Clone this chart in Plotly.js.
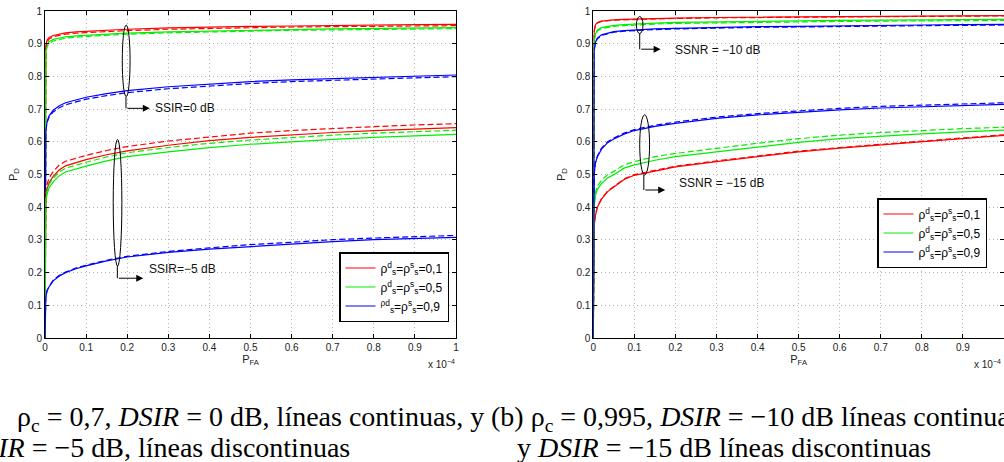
<!DOCTYPE html>
<html>
<head>
<meta charset="utf-8">
<script src="https://cdn.plot.ly/plotly-3.0.1.min.js"></script>
<style>
html,body{margin:0;padding:0;background:#fff;}
#chart{width:1004px;height:462px;}
</style>
</head>
<body>
<div id="chart"></div>
<script>
// P_FA (x 10^-4)
const pfa = [0, 0.0005, 0.002, 0.005, 0.01, 0.02, 0.035, 0.05, 0.075, 0.1, 0.15, 0.2, 0.3, 0.4, 0.5, 0.6, 0.7, 0.8, 0.9, 1.0];
const xTicks = [0, 0.1, 0.2, 0.3, 0.4, 0.5, 0.6, 0.7, 0.8, 0.9, 1];
const yTicks = [0, 0.1, 0.2, 0.3, 0.4, 0.5, 0.6, 0.7, 0.8, 0.9, 1];

// (a) SSIR = 0 dB  (solid: DSIR = 0 dB, dashed: DSIR = -5 dB)
const a0_red_solid   = [0, 0.86, 0.895, 0.912, 0.920, 0.926, 0.931, 0.934, 0.937, 0.939, 0.942, 0.945, 0.949, 0.952, 0.954, 0.955, 0.957, 0.958, 0.959, 0.960];
const a0_red_dash    = [0, 0.85, 0.888, 0.906, 0.915, 0.922, 0.927, 0.930, 0.933, 0.935, 0.938, 0.941, 0.945, 0.948, 0.950, 0.952, 0.953, 0.954, 0.955, 0.956];
const a0_green_solid = [0, 0.85, 0.880, 0.898, 0.907, 0.914, 0.919, 0.922, 0.925, 0.927, 0.930, 0.933, 0.937, 0.940, 0.942, 0.944, 0.946, 0.947, 0.949, 0.950];
const a0_green_dash  = [0, 0.84, 0.872, 0.891, 0.901, 0.909, 0.914, 0.918, 0.921, 0.923, 0.927, 0.930, 0.934, 0.937, 0.940, 0.942, 0.943, 0.945, 0.946, 0.947];
const a0_blue_solid  = [0, 0.59, 0.635, 0.662, 0.680, 0.697, 0.711, 0.720, 0.729, 0.737, 0.748, 0.757, 0.769, 0.778, 0.785, 0.790, 0.794, 0.798, 0.802, 0.805];
const a0_blue_dash   = [0, 0.59, 0.633, 0.659, 0.676, 0.692, 0.705, 0.714, 0.723, 0.731, 0.742, 0.751, 0.763, 0.772, 0.779, 0.785, 0.789, 0.793, 0.797, 0.800];
// (a) SSIR = -5 dB
const a5_red_solid   = [0, 0.40, 0.430, 0.455, 0.475, 0.495, 0.515, 0.527, 0.537, 0.546, 0.561, 0.573, 0.590, 0.604, 0.614, 0.622, 0.629, 0.635, 0.640, 0.644];
const a5_red_dash    = [0, 0.41, 0.445, 0.470, 0.490, 0.510, 0.530, 0.541, 0.551, 0.559, 0.574, 0.586, 0.603, 0.616, 0.627, 0.635, 0.642, 0.647, 0.652, 0.656];
const a5_green_solid = [0, 0.38, 0.415, 0.440, 0.460, 0.478, 0.497, 0.508, 0.518, 0.526, 0.542, 0.555, 0.570, 0.583, 0.593, 0.601, 0.608, 0.614, 0.619, 0.623];
const a5_green_dash  = [0, 0.39, 0.425, 0.452, 0.470, 0.490, 0.509, 0.520, 0.530, 0.538, 0.554, 0.567, 0.583, 0.596, 0.606, 0.614, 0.621, 0.627, 0.632, 0.636];
const a5_blue_solid  = [0, 0.09, 0.125, 0.145, 0.157, 0.175, 0.190, 0.200, 0.212, 0.221, 0.236, 0.248, 0.262, 0.272, 0.280, 0.288, 0.295, 0.301, 0.305, 0.308];
const a5_blue_dash   = [0, 0.09, 0.125, 0.145, 0.158, 0.177, 0.192, 0.202, 0.214, 0.223, 0.238, 0.250, 0.265, 0.276, 0.286, 0.293, 0.301, 0.306, 0.311, 0.314];

// (b) SSNR = -10 dB  (solid: DSIR = -10 dB, dashed: DSIR = -15 dB)
const b10_red_solid   = [0, 0.90, 0.940, 0.958, 0.966, 0.970, 0.972, 0.974, 0.975, 0.976, 0.978, 0.979, 0.981, 0.982, 0.983, 0.984, 0.985, 0.986, 0.986, 0.987];
const b10_red_dash    = [0, 0.90, 0.938, 0.956, 0.964, 0.969, 0.971, 0.973, 0.974, 0.975, 0.977, 0.978, 0.980, 0.981, 0.982, 0.983, 0.984, 0.985, 0.985, 0.986];
const b10_green_solid = [0, 0.86, 0.910, 0.930, 0.943, 0.950, 0.954, 0.957, 0.959, 0.961, 0.964, 0.966, 0.968, 0.969, 0.971, 0.972, 0.973, 0.974, 0.975, 0.975];
const b10_green_dash  = [0, 0.86, 0.907, 0.927, 0.940, 0.947, 0.951, 0.954, 0.956, 0.958, 0.961, 0.963, 0.965, 0.966, 0.968, 0.969, 0.970, 0.971, 0.972, 0.972];
const b10_blue_solid  = [0, 0.84, 0.880, 0.905, 0.918, 0.928, 0.934, 0.938, 0.941, 0.943, 0.946, 0.948, 0.951, 0.953, 0.954, 0.956, 0.957, 0.958, 0.959, 0.960];
const b10_blue_dash   = [0, 0.84, 0.878, 0.903, 0.916, 0.926, 0.932, 0.936, 0.939, 0.941, 0.944, 0.946, 0.949, 0.951, 0.952, 0.954, 0.955, 0.956, 0.957, 0.958];
// (b) SSNR = -15 dB
const b15_red_solid   = [0, 0.30, 0.340, 0.375, 0.400, 0.425, 0.448, 0.462, 0.485, 0.498, 0.512, 0.524, 0.540, 0.555, 0.570, 0.581, 0.591, 0.601, 0.611, 0.620];
const b15_red_dash    = [0, 0.30, 0.341, 0.377, 0.402, 0.427, 0.450, 0.464, 0.487, 0.500, 0.514, 0.526, 0.542, 0.557, 0.572, 0.583, 0.593, 0.603, 0.613, 0.622];
const b15_green_solid = [0, 0.35, 0.400, 0.435, 0.455, 0.473, 0.490, 0.500, 0.520, 0.530, 0.544, 0.555, 0.570, 0.585, 0.599, 0.610, 0.618, 0.625, 0.631, 0.636];
const b15_green_dash  = [0, 0.36, 0.410, 0.445, 0.465, 0.483, 0.500, 0.510, 0.530, 0.540, 0.555, 0.565, 0.581, 0.596, 0.610, 0.621, 0.629, 0.636, 0.641, 0.645];
const b15_blue_solid  = [0, 0.45, 0.500, 0.535, 0.555, 0.578, 0.598, 0.609, 0.624, 0.635, 0.648, 0.657, 0.672, 0.683, 0.691, 0.698, 0.704, 0.708, 0.712, 0.715];
const b15_blue_dash   = [0, 0.45, 0.500, 0.536, 0.557, 0.581, 0.601, 0.612, 0.627, 0.638, 0.651, 0.661, 0.676, 0.687, 0.696, 0.703, 0.709, 0.713, 0.717, 0.720];

const legendA = ['ρ<sup>d</sup><sub>s</sub>=ρ<sup>s</sup><sub>s</sub>=0,1', 'ρ<sup>d</sup><sub>s</sub>=ρ<sup>s</sup><sub>s</sub>=0,5', '<sup>ρd</sup><sub>s</sub>=ρ<sup>s</sup><sub>s</sub>=0,9'];
const legendB = ['ρ<sup>d</sup><sub>s</sub>=ρ<sup>s</sup><sub>s</sub>=0,1', 'ρ<sup>d</sup><sub>s</sub>=ρ<sup>s</sup><sub>s</sub>=0,5', 'ρ<sup>d</sup><sub>s</sub>=ρ<sup>s</sup><sub>s</sub>=0,9'];
const groupLabels = ['SSIR=0 dB', 'SSIR=−5 dB', 'SSNR = −10 dB', 'SSNR = −15 dB'];
const captionA1 = 'ρ<sub>c</sub> = 0,7, <i>DSIR</i> = 0 dB, líneas continuas, y';
const captionA2 = '<i>DSIR</i> = −5 dB, líneas discontinuas';
const captionB1 = '(b) ρ<sub>c</sub> = 0,995, <i>DSIR</i> = −10 dB líneas continuas';
const captionB2 = 'y <i>DSIR</i> = −15 dB líneas discontinuas';

const RED = '#ff0000', GREEN = '#00ee00', BLUE = '#0000ff';
const W = 1004, H = 462;
const px = v => v / W, py = v => 1 - v / H;

function tr(y, color, dashed, xa, ya, legend, name, show) {
  return {
    x: pfa, y: y, type: 'scatter', mode: 'lines',
    xaxis: xa, yaxis: ya,
    line: {color: color, width: 1.2, dash: dashed ? '6px,3px' : 'solid'},
    name: name || '', showlegend: !!show, legend: legend,
    hoverinfo: 'skip'
  };
}

const data = [
  tr(a0_red_solid, RED, false, 'x', 'y', 'legend', legendA[0], true),
  tr(a0_green_solid, GREEN, false, 'x', 'y', 'legend', legendA[1], true),
  tr(a0_blue_solid, BLUE, false, 'x', 'y', 'legend', legendA[2], true),
  tr(a0_red_dash, RED, true, 'x', 'y', 'legend'),
  tr(a0_green_dash, GREEN, true, 'x', 'y', 'legend'),
  tr(a0_blue_dash, BLUE, true, 'x', 'y', 'legend'),
  tr(a5_red_solid, RED, false, 'x', 'y', 'legend'),
  tr(a5_green_solid, GREEN, false, 'x', 'y', 'legend'),
  tr(a5_blue_solid, BLUE, false, 'x', 'y', 'legend'),
  tr(a5_red_dash, RED, true, 'x', 'y', 'legend'),
  tr(a5_green_dash, GREEN, true, 'x', 'y', 'legend'),
  tr(a5_blue_dash, BLUE, true, 'x', 'y', 'legend'),

  tr(b10_red_solid, RED, false, 'x2', 'y2', 'legend2', legendB[0], true),
  tr(b10_green_solid, GREEN, false, 'x2', 'y2', 'legend2', legendB[1], true),
  tr(b10_blue_solid, BLUE, false, 'x2', 'y2', 'legend2', legendB[2], true),
  tr(b10_red_dash, RED, true, 'x2', 'y2', 'legend2'),
  tr(b10_green_dash, GREEN, true, 'x2', 'y2', 'legend2'),
  tr(b10_blue_dash, BLUE, true, 'x2', 'y2', 'legend2'),
  tr(b15_red_solid, RED, false, 'x2', 'y2', 'legend2'),
  tr(b15_green_solid, GREEN, false, 'x2', 'y2', 'legend2'),
  tr(b15_blue_solid, BLUE, false, 'x2', 'y2', 'legend2'),
  tr(b15_red_dash, RED, true, 'x2', 'y2', 'legend2'),
  tr(b15_green_dash, GREEN, true, 'x2', 'y2', 'legend2'),
  tr(b15_blue_dash, BLUE, true, 'x2', 'y2', 'legend2')
];

const tickFont = {family: 'Liberation Sans, Arial, sans-serif', size: 10, color: '#222'};
function xax(domain, anchor) {
  return {
    domain: domain, anchor: anchor, range: [0, 1],
    tickmode: 'array', tickvals: xTicks, ticktext: xTicks.map(String),
    ticks: 'inside', ticklen: 4, tickcolor: '#000', tickwidth: 1,
    showline: true, linecolor: '#000', linewidth: 1, mirror: 'ticks',
    showgrid: true, gridcolor: '#b4b4b4', griddash: '1px,3px', gridwidth: 1,
    zeroline: false, tickfont: tickFont,
    title: {text: 'P<sub>FA</sub>', font: {family: 'Liberation Sans, Arial, sans-serif', size: 11, color: '#222'}, standoff: 1}
  };
}
function yax(domain, anchor) {
  return {
    domain: domain, anchor: anchor, range: [0, 1],
    tickmode: 'array', tickvals: yTicks, ticktext: yTicks.map(String),
    ticks: 'inside', ticklen: 4, tickcolor: '#000', tickwidth: 1,
    showline: true, linecolor: '#000', linewidth: 1, mirror: 'ticks',
    showgrid: true, gridcolor: '#b4b4b4', griddash: '1px,3px', gridwidth: 1,
    zeroline: false, tickfont: tickFont,
    title: {text: 'P<sub>D</sub>', font: {family: 'Liberation Sans, Arial, sans-serif', size: 11, color: '#222'}, standoff: 8}
  };
}

const yDom = [py(338), py(11.3)];
const legendFont = {family: 'Liberation Sans, Arial, sans-serif', size: 12, color: '#000'};

const shapes = [];
const annotations = [];
function bracket(xr, yr, ex0, ex1, ey0, ey1, xv, ybend, xhead, label, xlabel, ylabel) {
  shapes.push({type: 'circle', xref: xr, yref: yr, x0: ex0, x1: ex1, y0: ey0, y1: ey1, line: {color: '#000', width: 1}});
  shapes.push({type: 'line', xref: xr, yref: yr, x0: xv, x1: xv, y0: ey0, y1: ybend, line: {color: '#000', width: 1}});
  annotations.push({xref: xr, yref: yr, axref: xr, ayref: yr, x: xhead, y: ybend, ax: xv, ay: ybend,
    text: '', showarrow: true, arrowhead: 2, arrowsize: 1.4, arrowwidth: 1, arrowcolor: '#000', standoff: 0});
  annotations.push({xref: xr, yref: yr, x: xlabel, y: ylabel, xanchor: 'left', yanchor: 'middle', showarrow: false,
    text: label, font: {family: 'Liberation Sans, Arial, sans-serif', size: 12, color: '#111'}});
}
bracket('x', 'y', 0.188, 0.207, 0.739, 0.958, 0.197, 0.703, 0.255, groupLabels[0], 0.262, 0.703);
bracket('x', 'y', 0.166, 0.187, 0.220, 0.608, 0.176, 0.183, 0.239, groupLabels[1], 0.248, 0.211);
bracket('x2', 'y2', 0.105, 0.121, 0.932, 0.984, 0.113, 0.884, 0.164, groupLabels[2], 0.194, 0.882);
bracket('x2', 'y2', 0.113, 0.137, 0.499, 0.683, 0.123, 0.453, 0.175, groupLabels[3], 0.204, 0.474);

// x 10^-4 exponent labels
annotations.push({xref: 'paper', yref: 'paper', x: px(457), y: py(364), xanchor: 'right', yanchor: 'middle', showarrow: false,
  text: 'x 10<sup>−4</sup>', font: {family: 'Liberation Sans, Arial, sans-serif', size: 10, color: '#222'}});
annotations.push({xref: 'paper', yref: 'paper', x: px(972), y: py(364), xanchor: 'left', yanchor: 'middle', showarrow: false,
  text: 'x 10<sup>−4</sup>', font: {family: 'Liberation Sans, Arial, sans-serif', size: 10, color: '#222'}});

// captions
const capFont = {family: 'Liberation Serif, Times New Roman, serif', size: 28, color: '#000'};
annotations.push({xref: 'paper', yref: 'paper', x: px(486), y: py(418), xanchor: 'right', yanchor: 'middle', showarrow: false, text: captionA1, font: capFont});
annotations.push({xref: 'paper', yref: 'paper', x: px(352), y: py(447), xanchor: 'right', yanchor: 'middle', showarrow: false, text: captionA2, font: capFont});
annotations.push({xref: 'paper', yref: 'paper', x: px(489), y: py(418), xanchor: 'left', yanchor: 'middle', showarrow: false, text: captionB1, font: capFont});
annotations.push({xref: 'paper', yref: 'paper', x: px(515), y: py(447), xanchor: 'left', yanchor: 'middle', showarrow: false, text: captionB2, font: capFont});

const layout = {
  width: W, height: H,
  margin: {l: 0, r: 0, t: 0, b: 0},
  paper_bgcolor: '#fff', plot_bgcolor: '#fff',
  xaxis: xax([px(45), px(456)], 'y'),
  yaxis: yax(yDom, 'x'),
  xaxis2: xax([px(593.3), 1.0], 'y2'),
  yaxis2: yax(yDom, 'x2'),
  legend: {x: px(449), xanchor: 'right', y: py(252), yanchor: 'top', bgcolor: '#fff', bordercolor: '#000', borderwidth: 1.5,
    font: legendFont, tracegroupgap: 0, itemwidth: 30, traceorder: 'normal'},
  legend2: {x: px(987), xanchor: 'right', y: py(198), yanchor: 'top', bgcolor: '#fff', bordercolor: '#000', borderwidth: 1.5,
    font: legendFont, tracegroupgap: 0, itemwidth: 30, traceorder: 'normal'},
  shapes: shapes,
  annotations: annotations,
  showlegend: true
};

Plotly.newPlot('chart', data, layout, {displayModeBar: false, staticPlot: true});
</script>
</body>
</html>
